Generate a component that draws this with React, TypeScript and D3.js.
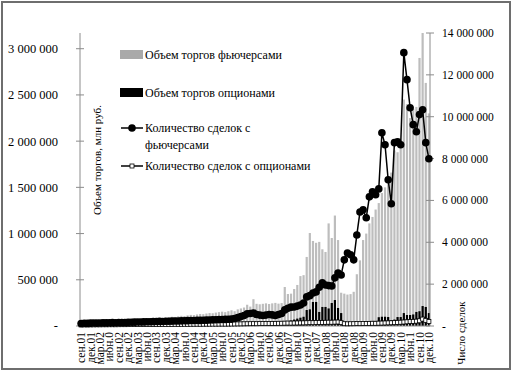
import React, { useRef, useEffect } from 'react';
import * as d3 from 'd3';

// monthly, Sep 2001 .. Dec 2010
const months: string[] = d3.timeMonth
    .range(new Date(2001, 8, 1), new Date(2011, 0, 1))
    .map(d3.timeFormat('%Y-%m'));

const tickLabels = [
    'сен.01', 'дек.01', 'мар.02', 'июн.0', 'сен.02', 'дек.02', 'мар.03', 'июн.0',
    'сен.03', 'дек.03', 'мар.04', 'июн.0', 'сен.04', 'дек.04', 'мар.05', 'июн.0',
    'сен.05', 'дек.05', 'мар.06', 'июн.0', 'сен.06', 'дек.06', 'мар.07', 'июн.0',
    'сен.07', 'дек.07', 'мар.08', 'июн.0', 'сен.08', 'дек.08', 'мар.09', 'июн.0',
    'сен.09', 'дек.09', 'мар.10', 'июн.1', 'сен.10', 'дек.10',
];

const leftTicks = [0, 500000, 1000000, 1500000, 2000000, 2500000, 3000000];
const rightTicks = [0, 2000000, 4000000, 6000000, 8000000, 10000000, 12000000, 14000000];

// объем торгов фьючерсами, млн руб.
const futuresVolume = [
    18000, 22000, 25000, 24000, 28000, 32000, 30000, 35000, 38000, 36000, 40000, 42000,
    45000, 48000, 52000, 50000, 55000, 60000, 62000, 58000, 65000, 70000, 72000, 75000,
    80000, 85000, 82000, 90000, 95000, 100000, 98000, 105000, 110000, 108000, 115000, 120000,
    118000, 125000, 130000, 128000, 135000, 140000, 138000, 145000, 150000, 155000, 150000, 160000,
    170000, 160000, 180000, 190000, 200000, 230000, 210000, 290000,
    240000, 235000, 240000, 245000, 238000, 245000, 250000, 242000, 248000,
    422000, 346000, 350000, 400000, 444000, 540000, 550000, 747000, 1006000, 920000, 900000, 910000,
    830000, 801000, 1110000, 952000, 1195000, 930000,
    360000, 350000, 340000, 345000, 370000, 560000, 710000, 930000, 1000000, 1110000, 1180000, 1260000, 1330000,
    1440000, 1500000, 1580000, 1660000, 1900000, 1880000, 2010000, 2450000, 2400000, 2250000, 2350000, 2370000,
    2900000, 3170000, 2630000, 2300000,
];

// объем торгов опционами, млн руб.
const optionsVolume = [
    2000, 3000, 3000, 4000, 4000, 5000, 5000, 6000, 6000, 7000, 7000, 8000,
    8000, 9000, 9000, 10000, 10000, 11000, 12000, 12000, 13000, 14000, 14000, 15000,
    15000, 16000, 17000, 17000, 18000, 19000, 20000, 20000, 21000, 22000, 22000, 23000,
    24000, 24000, 25000, 26000, 26000, 27000, 28000, 28000, 29000, 30000, 30000, 31000,
    32000, 33000, 34000, 35000, 35000, 36000, 37000, 38000, 38000, 39000, 40000, 40000,
    42000, 44000, 45000, 46000, 48000, 50000, 52000, 60000, 70000,
    80000, 90000, 100000, 173000, 180000, 260000, 260000, 152000, 206000, 206000, 190000, 249000, 281000, 195000, 140000,
    40000, 35000, 30000, 35000, 40000, 45000, 45000, 50000, 50000, 55000, 55000,
    95000, 100000, 100000, 97000, 65000, 70000, 97000, 97000, 140000, 119000, 119000, 125000, 152000, 160000, 216000, 206000, 140000,
];

// количество сделок с фьючерсами
const futuresDeals = [
    120000, 130000, 125000, 135000, 140000, 138000, 145000, 150000, 148000, 155000, 160000, 158000,
    165000, 170000, 168000, 175000, 180000, 185000, 190000, 188000, 195000, 200000, 205000, 210000,
    215000, 220000, 218000, 225000, 230000, 235000, 240000, 238000, 245000, 250000, 255000, 260000,
    265000, 270000, 268000, 275000, 280000, 290000, 295000, 300000, 305000, 310000, 315000, 320000,
    330000, 360000, 400000, 450000, 500000, 580000, 600000, 620000,
    550000, 520000, 500000, 520000, 550000, 530000, 500000, 550000, 600000,
    770000, 850000, 900000, 910000, 950000, 1000000, 1100000, 1390000, 1450000, 1580000, 1630000, 1850000,
    2060000, 1960000, 1930000, 1910000, 2300000, 2530000,
    2440000, 3160000, 3490000, 3400000, 3160000, 4350000, 5450000, 5550000, 5170000, 6170000, 6410000, 6270000, 6550000,
    9230000, 8660000, 6990000, 5840000, 8760000, 8800000, 8660000, 13060000, 11770000, 10430000, 9620000, 9280000,
    10100000, 10330000, 8760000, 7990000,
];

// количество сделок с опционами
const optionsDeals = [
    50000, 52000, 55000, 54000, 56000, 58000, 57000, 60000, 59000, 61000, 62000, 60000,
    63000, 65000, 64000, 66000, 68000, 67000, 70000, 69000, 71000, 72000, 70000, 73000,
    74000, 75000, 73000, 76000, 78000, 77000, 80000, 79000, 81000, 82000, 80000, 83000,
    84000, 85000, 83000, 86000, 88000, 87000, 90000, 89000, 91000, 92000, 90000, 93000,
    95000, 98000, 100000, 102000, 105000, 108000, 110000, 112000, 110000, 115000, 118000, 116000,
    120000, 122000, 125000, 128000, 130000, 135000, 140000, 138000, 142000, 145000, 148000, 150000,
    155000, 160000, 158000, 165000, 170000, 168000, 175000, 180000, 178000, 185000, 190000, 160000,
    110000, 105000, 108000, 110000, 115000, 112000, 118000, 120000, 125000, 130000, 128000, 135000,
    140000, 145000, 150000, 155000, 160000, 170000, 180000, 190000, 200000, 210000, 220000, 230000,
    250000, 330000, 270000, 220000,
];

const FONT = '"Liberation Serif", "Times New Roman", serif';
const fmt = (v: number) => (v === 0 ? '-' : d3.format(',')(v).replace(/,/g, ' '));

const App: React.FC = () => {
    const svgRef = useRef<SVGSVGElement | null>(null);

    useEffect(() => {
        const svg = d3.select(svgRef.current);
        svg.selectAll('*').remove();

        const x = d3.scaleBand<string>().domain(months).range([80, 430]).paddingInner(0.3);
        const yLeft = d3.scaleLinear().domain([0, 3170000]).range([326, 33]);
        const yRight = d3.scaleLinear().domain([0, 14000000]).range([326, 33]);
        const cx = (i: number) => x(months[i])! + x.bandwidth() / 2;

        svg.append('rect')
            .attr('x', 0).attr('y', 0).attr('width', 515).attr('height', 374)
            .attr('fill', '#fff');
        svg.append('rect')
            .attr('x', 2).attr('y', 2).attr('width', 508).attr('height', 367)
            .attr('fill', 'none').attr('stroke', '#6e6e6e').attr('stroke-width', 2);

        // bars
        svg.selectAll('.bar-fut')
            .data(futuresVolume)
            .enter()
            .append('rect')
            .attr('x', (_, i) => x(months[i])!)
            .attr('y', d => yLeft(d))
            .attr('width', x.bandwidth())
            .attr('height', d => yLeft(0) - yLeft(d))
            .attr('fill', '#bdbdbd');

        svg.selectAll('.bar-opt')
            .data(optionsVolume)
            .enter()
            .append('rect')
            .attr('x', (_, i) => x(months[i])!)
            .attr('y', d => yLeft(d))
            .attr('width', x.bandwidth())
            .attr('height', d => yLeft(0) - yLeft(d))
            .attr('fill', '#000');

        // axes
        const axisColor = '#8c8c8c';
        svg.append('line')
            .attr('x1', 80).attr('x2', 80).attr('y1', yLeft.range()[1]).attr('y2', yLeft(0))
            .attr('stroke', axisColor);
        svg.append('line')
            .attr('x1', 430).attr('x2', 430).attr('y1', yRight.range()[1]).attr('y2', yRight(0))
            .attr('stroke', axisColor);
        svg.append('line')
            .attr('x1', 80).attr('x2', 430).attr('y1', yLeft(0)).attr('y2', yLeft(0))
            .attr('stroke', axisColor);

        svg.selectAll('.tick-l')
            .data(leftTicks)
            .enter()
            .append('line')
            .attr('x1', 76).attr('x2', 84)
            .attr('y1', d => yLeft(d)).attr('y2', d => yLeft(d))
            .attr('stroke', axisColor);
        svg.selectAll('.lbl-l')
            .data(leftTicks)
            .enter()
            .append('text')
            .attr('x', 58)
            .attr('y', d => yLeft(d))
            .attr('dy', '0.35em')
            .attr('text-anchor', 'end')
            .style('font-family', FONT)
            .style('font-size', '12.5px')
            .text(fmt);

        svg.selectAll('.tick-r')
            .data(rightTicks)
            .enter()
            .append('line')
            .attr('x1', 426).attr('x2', 434)
            .attr('y1', d => yRight(d)).attr('y2', d => yRight(d))
            .attr('stroke', axisColor);
        svg.selectAll('.lbl-r')
            .data(rightTicks)
            .enter()
            .append('text')
            .attr('x', 442)
            .attr('y', d => yRight(d))
            .attr('dy', '0.35em')
            .style('font-family', FONT)
            .style('font-size', '11.5px')
            .text(fmt);

        // x labels, every third month
        svg.selectAll('.lbl-x')
            .data(tickLabels)
            .enter()
            .append('text')
            .attr('transform', (_, k) => `translate(${cx(k * 3)},332) rotate(-90)`)
            .attr('dy', '0.35em')
            .attr('text-anchor', 'end')
            .style('font-family', FONT)
            .style('font-size', '11.5px')
            .text(d => d);

        // axis titles
        svg.append('text')
            .attr('transform', 'translate(97,160) rotate(-90)')
            .attr('dy', '0.35em')
            .attr('text-anchor', 'middle')
            .style('font-family', FONT)
            .style('font-size', '11px')
            .text('Объем торгов, млн руб.');
        svg.append('text')
            .attr('transform', 'translate(461,333) rotate(-90)')
            .attr('dy', '0.35em')
            .attr('text-anchor', 'middle')
            .style('font-family', FONT)
            .style('font-size', '11px')
            .text('Число сделок');

        // lines
        const line = d3.line<number>()
            .x((_, i) => cx(i))
            .y(d => yRight(d));

        svg.append('path')
            .attr('d', line(optionsDeals))
            .attr('fill', 'none')
            .attr('stroke', '#000')
            .attr('stroke-width', 1.5);
        svg.selectAll('.mk-opt')
            .data(optionsDeals)
            .enter()
            .append('rect')
            .attr('x', (_, i) => cx(i) - 2)
            .attr('y', d => yRight(d) - 2)
            .attr('width', 4)
            .attr('height', 4)
            .attr('fill', '#fff')
            .attr('stroke', '#000')
            .attr('stroke-width', 0.8);

        svg.append('path')
            .attr('d', line(futuresDeals))
            .attr('fill', 'none')
            .attr('stroke', '#000')
            .attr('stroke-width', 1.5);
        svg.selectAll('.mk-fut')
            .data(futuresDeals)
            .enter()
            .append('circle')
            .attr('cx', (_, i) => cx(i))
            .attr('cy', d => yRight(d))
            .attr('r', 3.8)
            .attr('fill', '#000');

        // legend
        const lg = svg.append('g').style('font-family', FONT).style('font-size', '12px');
        lg.append('rect').attr('x', 120).attr('y', 50).attr('width', 23).attr('height', 9).attr('fill', '#a9a9a9');
        lg.append('text').attr('x', 145).attr('y', 59).text('Объем торгов фьючерсами');
        lg.append('rect').attr('x', 120).attr('y', 88).attr('width', 23).attr('height', 9).attr('fill', '#000');
        lg.append('text').attr('x', 145).attr('y', 97).text('Объем торгов опционами');

        lg.append('line').attr('x1', 121).attr('x2', 143).attr('y1', 128).attr('y2', 128)
            .attr('stroke', '#000').attr('stroke-width', 1.5);
        lg.append('circle').attr('cx', 132).attr('cy', 128).attr('r', 3.8).attr('fill', '#000');
        lg.append('text').attr('x', 145).attr('y', 132).text('Количество сделок с');
        lg.append('text').attr('x', 145).attr('y', 149).text('фьючерсами');

        lg.append('line').attr('x1', 121).attr('x2', 143).attr('y1', 166).attr('y2', 166)
            .attr('stroke', '#000').attr('stroke-width', 1.5);
        lg.append('rect').attr('x', 130).attr('y', 164).attr('width', 4).attr('height', 4)
            .attr('fill', '#fff').attr('stroke', '#000').attr('stroke-width', 0.8);
        lg.append('text').attr('x', 145).attr('y', 170).text('Количество сделок с опционами');
    }, []);

    return (
        <svg
            ref={svgRef}
            width={515}
            height={374}
            style={{ position: 'absolute', left: 0, top: 0 }}
        ></svg>
    );
};

export default App;
